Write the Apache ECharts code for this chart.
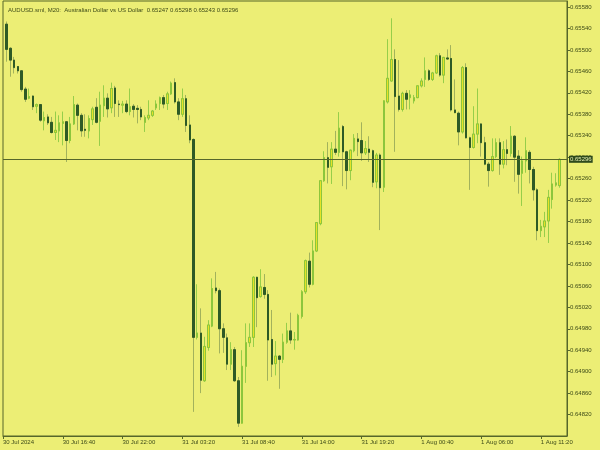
<!DOCTYPE html>
<html><head><meta charset="utf-8">
<script src="https://cdn.jsdelivr.net/npm/echarts@6/dist/echarts.min.js"></script>
<style>html,body{margin:0;padding:0;background:#ECEE75}#c{width:600px;height:450px}</style>
</head><body><div id="c"></div>
<script>
const symbolTitle = 'AUDUSD.sml, M20:  Australian Dollar vs US Dollar  0.65247 0.65298 0.65243 0.65296';
const tickLabels = ['30 Jul 2024','30 Jul 16:40','30 Jul 22:00','31 Jul 03:20','31 Jul 08:40','31 Jul 14:00','31 Jul 19:20','1 Aug 00:40','1 Aug 06:00','1 Aug 11:20'];
const opens = [null,
0.65548,0.65503,0.65481,0.65469,0.65461,0.65427,0.65410,0.65414,0.65395,0.65398,
0.65368,0.65375,0.65365,0.65346,0.65349,0.65363,0.65366,0.65331,0.65362,0.65397,
0.65378,0.65352,0.65349,0.65370,0.65393,0.65367,0.65396,0.65410,0.65392,0.65429,
0.65399,0.65397,0.65399,0.65385,0.65395,0.65391,0.65389,0.65365,0.65373,0.65378,
0.65392,0.65400,0.65411,0.65400,0.65418,0.65439,0.65403,0.65380,0.65409,0.65360,
0.65333,0.64964,0.64972,0.64883,0.64945,0.64985,0.65056,0.65051,0.64980,0.64963,
0.64914,0.64941,0.64883,0.64804,0.64910,0.64954,0.64964,0.65076,0.65040,0.65057,
0.65044,0.64960,0.64915,0.64929,0.64923,0.64955,0.64976,0.64959,0.64959,0.65003,
0.65049,0.65106,0.65063,0.65125,0.65176,0.65256,0.65299,0.65282,0.65315,0.65309,
0.65357,0.65310,0.65275,0.65312,0.65334,0.65331,0.65308,0.65315,0.65312,0.65254,
0.65304,0.65244,0.65403,0.65442,0.65482,0.65414,0.65389,0.65419,0.65411,0.65405,
0.65411,0.65433,0.65445,0.65461,0.65445,0.65457,0.65489,0.65453,0.65485,0.65484,
0.65388,0.65382,0.65347,0.65467,0.65336,0.65318,0.65343,0.65362,0.65327,0.65287,
0.65275,0.65301,0.65327,0.65287,0.65314,0.65307,0.65339,0.65302,0.65270,0.65293,
0.65309,0.65277,0.65239,0.65163,0.65170,0.65181,0.65221,0.65248,0.65247];
const highs = [null,
0.65553,0.65505,0.65487,0.65470,0.65462,0.65431,0.65428,0.65415,0.65400,0.65399,
0.65385,0.65380,0.65375,0.65385,0.65378,0.65385,0.65367,0.65375,0.65414,0.65400,
0.65382,0.65380,0.65378,0.65394,0.65410,0.65422,0.65434,0.65419,0.65439,0.65433,
0.65406,0.65405,0.65406,0.65428,0.65399,0.65397,0.65394,0.65378,0.65406,0.65388,
0.65406,0.65413,0.65416,0.65422,0.65441,0.65447,0.65410,0.65428,0.65416,0.65378,
0.65335,0.65063,0.65018,0.64965,0.64996,0.65074,0.65086,0.65055,0.64990,0.64971,
0.64955,0.64946,0.64890,0.64940,0.64990,0.64990,0.65078,0.65077,0.65091,0.65082,
0.65052,0.65015,0.64957,0.64931,0.64971,0.64991,0.65010,0.64974,0.65008,0.65052,
0.65109,0.65122,0.65145,0.65179,0.65257,0.65311,0.65328,0.65328,0.65349,0.65384,
0.65360,0.65312,0.65314,0.65343,0.65345,0.65365,0.65330,0.65339,0.65314,0.65308,
0.65307,0.65406,0.65520,0.65559,0.65501,0.65481,0.65422,0.65425,0.65425,0.65416,
0.65434,0.65447,0.65486,0.65464,0.65459,0.65491,0.65494,0.65487,0.65501,0.65509,
0.65445,0.65385,0.65470,0.65475,0.65338,0.65395,0.65428,0.65363,0.65338,0.65291,
0.65335,0.65335,0.65335,0.65330,0.65333,0.65358,0.65341,0.65313,0.65301,0.65337,
0.65313,0.65282,0.65242,0.65183,0.65198,0.65239,0.65271,0.65270,0.65298];
const lows = [null,
0.65478,0.65450,0.65456,0.65456,0.65422,0.65403,0.65408,0.65388,0.65382,0.65366,
0.65350,0.65360,0.65344,0.65332,0.65328,0.65322,0.65291,0.65326,0.65360,0.65350,
0.65338,0.65338,0.65335,0.65360,0.65363,0.65321,0.65375,0.65374,0.65382,0.65375,
0.65375,0.65382,0.65382,0.65378,0.65374,0.65363,0.65369,0.65347,0.65369,0.65375,
0.65388,0.65388,0.65391,0.65388,0.65416,0.65400,0.65369,0.65375,0.65347,0.65326,
0.64825,0.64960,0.64860,0.64881,0.64939,0.64983,0.65046,0.64934,0.64935,0.64903,
0.64903,0.64881,0.64797,0.64803,0.64879,0.64946,0.64946,0.64983,0.65038,0.65036,
0.64883,0.64890,0.64893,0.64868,0.64916,0.64952,0.64952,0.64941,0.64958,0.64999,
0.65045,0.65057,0.65061,0.65123,0.65173,0.65254,0.65251,0.65250,0.65304,0.65301,
0.65246,0.65240,0.65257,0.65309,0.65302,0.65293,0.65304,0.65291,0.65244,0.65242,
0.65164,0.65235,0.65400,0.65441,0.65310,0.65385,0.65385,0.65389,0.65389,0.65400,
0.65410,0.65430,0.65431,0.65442,0.65442,0.65455,0.65450,0.65438,0.65482,0.65385,
0.65382,0.65322,0.65344,0.65335,0.65239,0.65316,0.65326,0.65301,0.65285,0.65245,
0.65273,0.65298,0.65267,0.65279,0.65285,0.65301,0.65254,0.65232,0.65209,0.65271,
0.65251,0.65219,0.65145,0.65151,0.65151,0.65140,0.65204,0.65245,0.65243];
const closes = [null,
0.65501,0.65481,0.65467,0.65461,0.65426,0.65408,0.65413,0.65394,0.65398,0.65369,
0.65374,0.65364,0.65346,0.65350,0.65364,0.65366,0.65331,0.65362,0.65398,0.65378,
0.65349,0.65350,0.65372,0.65390,0.65365,0.65397,0.65410,0.65390,0.65428,0.65400,
0.65398,0.65399,0.65385,0.65394,0.65389,0.65389,0.65375,0.65374,0.65378,0.65386,
0.65399,0.65411,0.65399,0.65418,0.65438,0.65403,0.65380,0.65409,0.65359,0.65332,
0.64964,0.64972,0.64884,0.64947,0.64987,0.65055,0.65051,0.64980,0.64964,0.64914,
0.64941,0.64883,0.64804,0.64910,0.64954,0.64964,0.65076,0.65038,0.65058,0.65044,
0.64959,0.64914,0.64929,0.64923,0.64955,0.64976,0.64959,0.64960,0.65005,0.65049,
0.65107,0.65063,0.65125,0.65178,0.65256,0.65299,0.65281,0.65315,0.65309,0.65354,
0.65310,0.65275,0.65313,0.65335,0.65329,0.65308,0.65316,0.65309,0.65253,0.65304,
0.65243,0.65405,0.65447,0.65482,0.65413,0.65389,0.65419,0.65408,0.65416,0.65411,
0.65433,0.65442,0.65461,0.65445,0.65457,0.65489,0.65453,0.65486,0.65483,0.65388,
0.65383,0.65347,0.65467,0.65336,0.65318,0.65343,0.65362,0.65327,0.65287,0.65275,
0.65301,0.65327,0.65287,0.65314,0.65307,0.65339,0.65300,0.65268,0.65293,0.65312,
0.65277,0.65239,0.65163,0.65171,0.65181,0.65225,0.65250,0.65252,0.65296];

const barCount = 152;            // visible slots on the time axis (M20 bars)
const startMs = Date.UTC(2024, 6, 30, 11, 20);
const months = ['Jan','Feb','Mar','Apr','May','Jun','Jul','Aug','Sep','Oct','Nov','Dec'];
const pad = n => (n < 10 ? '0' : '') + n;
const categories = [];
for (let i = 0; i < barCount; i++) {
  const d = new Date(startMs + i * 20 * 60000);
  categories.push(d.getUTCDate() + ' ' + months[d.getUTCMonth()] + ' ' + pad(d.getUTCHours()) + ':' + pad(d.getUTCMinutes()));
}
const ohlc = [], bodies = [];
for (let i = 0; i < barCount; i++) {
  const o = opens[i];
  if (o == null) { ohlc.push('-'); bodies.push('-'); continue; }
  const c = closes[i];
  ohlc.push([o, c, lows[i], highs[i]]);
  bodies.push([o, c, Math.min(o, c), Math.max(o, c)]);
}
const lastPrice = closes[closes.length - 1];

const FONT = 'Liberation Sans';
const axisColor = '#56662A';
const textColor = '#3C4A18';
const bullFill = '#E6E326', bullBorder = '#8CC63C', bullWick = '#96CE4A';
const bearFill = '#2E5A26', bearWick = '#A2B25C';

const chart = echarts.init(document.getElementById('c'), null, {renderer: 'canvas'});
chart.setOption({
  backgroundColor: '#ECEE75',
  animation: false,
  textStyle: {fontFamily: FONT},
  title: {text: symbolTitle, left: 3, top: 2,
    textStyle: {fontSize: 6, fontWeight: 'normal', color: textColor, fontFamily: FONT}},
  grid: {left: 1, right: 33, top: 1, bottom: 14, show: true, borderColor: axisColor, borderWidth: 1, backgroundColor: 'transparent'},
  xAxis: {
    type: 'category', data: categories, boundaryGap: false,
    axisLine: {show: true, lineStyle: {color: axisColor, width: 1}},
    axisTick: {show: true, length: 3, interval: (i) => i % 16 === 0, lineStyle: {color: axisColor}},
    axisLabel: {interval: (i) => i % 16 === 0, formatter: (v, i) => tickLabels[i / 16] || '',
      align: 'left', margin: 3, fontSize: 6, color: textColor, fontFamily: FONT},
    splitLine: {show: false}
  },
  yAxis: {
    type: 'value', position: 'right', min: 0.6478, max: 0.655912, interval: 0.0004, scale: true,
    axisLine: {show: true, lineStyle: {color: axisColor, width: 1}},
    axisTick: {show: true, length: 3, lineStyle: {color: axisColor}},
    axisLabel: {showMinLabel: false, showMaxLabel: false, margin: 3, fontSize: 6, color: textColor,
      fontFamily: FONT, formatter: v => v.toFixed(5)},
    splitLine: {show: false}
  },
  series: [
    {
      type: 'line', data: [], silent: true, showSymbol: false, z: 1,
      markLine: {
        silent: true, symbol: ['none', 'none'], animation: false, precision: 5,
        lineStyle: {color: axisColor, width: 1, type: 'solid'},
        label: {show: true, position: 'end', distance: 2, formatter: lastPrice.toFixed(5),
          backgroundColor: '#2E4A1C', color: '#E6EDB0', fontSize: 6, padding: [1, 1, 0, 1], fontFamily: FONT},
        data: [{yAxis: lastPrice}]
      }
    },
    {
      type: 'candlestick', data: ohlc, barWidth: 2, z: 2,
      itemStyle: {color: bullFill, color0: bearFill, borderColor: bullWick, borderColor0: bearWick, borderWidth: 1}
    },
    {
      type: 'candlestick', data: bodies, barWidth: 2, z: 3,
      itemStyle: {color: bullFill, color0: bearFill, borderColor: bullBorder, borderColor0: bearFill, borderWidth: 1}
    }
  ]
});
</script></body></html>
